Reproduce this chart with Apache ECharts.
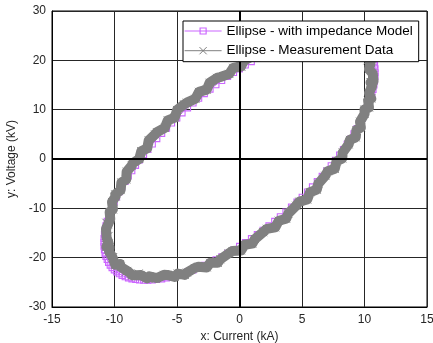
<!DOCTYPE html>
<html><head><meta charset="utf-8">
<script src="https://cdn.jsdelivr.net/npm/echarts@6/dist/echarts.min.js"></script>
<style>html,body{margin:0;padding:0;background:#fff}#c{width:433px;height:343px}</style>
</head><body><div id="c"></div>
<script>
const seriesNames = ['Ellipse - with impedance Model', 'Ellipse - Measurement Data'];
const axisTitles = ['x: Current (kA)', 'y: Voltage (kV)'];
const xRange = [-15, 15, 5];
const yRange = [-30, 30, 10];

const modelX = [
 0, 0.47, 0.95, 1.42, 1.88, 2.35, 2.81, 3.26, 3.71, 4.15, 4.59, 5.01, 5.43, 5.83, 6.22, 6.61, 6.97, 7.33, 7.67, 8.00, 8.31, 8.61, 8.89, 9.15, 9.40, 9.62, 9.83, 10.02, 10.20, 10.35, 10.48, 10.59, 10.69, 10.76, 10.81, 10.84,
 10.85, 10.84, 10.81, 10.76, 10.69, 10.59, 10.48, 10.35, 10.20, 10.02, 9.83, 9.62, 9.40, 9.15, 8.89, 8.61, 8.31, 8.00, 7.67, 7.33, 6.97, 6.61, 6.22, 5.83, 5.43, 5.01, 4.59, 4.15, 3.71, 3.26, 2.81, 2.35, 1.88, 1.42, 0.95, 0.47,
 0, -0.47, -0.95, -1.42, -1.88, -2.35, -2.81, -3.26, -3.71, -4.15, -4.59, -5.01, -5.43, -5.83, -6.22, -6.61, -6.97, -7.33, -7.67, -8.00, -8.31, -8.61, -8.89, -9.15, -9.40, -9.62, -9.83, -10.02, -10.20, -10.35, -10.48, -10.59, -10.69, -10.76, -10.81, -10.84,
 -10.85, -10.84, -10.81, -10.76, -10.69, -10.59, -10.48, -10.35, -10.20, -10.02, -9.83, -9.62, -9.40, -9.15, -8.89, -8.61, -8.31, -8.00, -7.67, -7.33, -6.97, -6.61, -6.22, -5.83, -5.43, -5.01, -4.59, -4.15, -3.71, -3.26, -2.81, -2.35, -1.88, -1.42, -0.95, -0.47,
 0
];
const modelY = [
 18.30, 19.03, 19.73, 20.39, 21.01, 21.60, 22.14, 22.64, 23.10, 23.51, 23.88, 24.21, 24.49, 24.72, 24.91, 25.05, 25.14, 25.19, 25.19, 25.14, 25.05, 24.90, 24.72, 24.48, 24.20, 23.87, 23.50, 23.08, 22.62, 22.12, 21.57, 20.99, 20.36, 19.70, 19.01, 18.27,
 17.50, 16.70, 15.87, 15.00, 14.11, 13.20, 12.26, 11.29, 10.31, 9.30, 8.28, 7.25, 6.20, 5.14, 4.07, 2.99, 1.91, 0.82, -0.27, -1.35, -2.43, -3.51, -4.58, -5.64, -6.69, -7.73, -8.74, -9.75, -10.73, -11.70, -12.64, -13.55, -14.44, -15.30, -16.13, -16.93,
 -17.70, -18.43, -19.13, -19.79, -20.41, -21.00, -21.54, -22.04, -22.50, -22.91, -23.28, -23.61, -23.89, -24.12, -24.31, -24.45, -24.54, -24.59, -24.59, -24.54, -24.45, -24.30, -24.12, -23.88, -23.60, -23.27, -22.90, -22.48, -22.02, -21.52, -20.97, -20.39, -19.76, -19.10, -18.41, -17.67,
 -16.90, -16.10, -15.27, -14.40, -13.51, -12.60, -11.66, -10.69, -9.71, -8.70, -7.68, -6.65, -5.60, -4.54, -3.47, -2.39, -1.31, -0.22, 0.87, 1.95, 3.03, 4.11, 5.18, 6.24, 7.29, 8.33, 9.34, 10.35, 11.33, 12.30, 13.24, 14.15, 15.04, 15.90, 16.73, 17.53,
 18.30
];
const measX = [
 0.12, 0.36, 0.97, 1.23, 1.94, 2.24, 2.86, 3.09, 3.68, 3.91, 4.58, 4.84, 5.42, 5.59, 6.13, 6.30, 6.91, 7.11, 7.62, 7.71, 8.17, 8.25, 8.78, 8.88, 9.30, 9.30, 9.66, 9.64, 10.06, 10.05, 10.36, 10.24, 10.49, 10.35, 10.66, 10.53,
 10.72, 10.48, 10.61, 10.35, 10.54, 10.29, 10.36, 10.00, 10.01, 9.64, 9.71, 9.35, 9.30, 8.83, 8.73, 8.25, 8.22, 7.76, 7.62, 7.06, 6.86, 6.30, 6.18, 5.64, 5.42, 4.79, 4.53, 3.91, 3.73, 3.14, 2.86, 2.19, 1.89, 1.23, 1.02, 0.41,
 0.12, -0.56, -0.87, -1.53, -1.74, -2.34, -2.62, -3.29, -3.58, -4.21, -4.38, -4.94, -5.18, -5.79, -6.03, -6.60, -6.71, -7.21, -7.38, -7.91, -8.07, -8.55, -8.58, -8.98, -9.06, -9.50, -9.56, -9.94, -9.86, -10.15, -10.12, -10.44, -10.39, -10.65, -10.46, -10.63,
 -10.48, -10.68, -10.51, -10.65, -10.34, -10.39, -10.12, -10.20, -9.91, -9.94, -9.51, -9.45, -9.06, -9.03, -8.63, -8.55, -8.02, -7.86, -7.38, -7.26, -6.76, -6.60, -5.98, -5.74, -5.18, -4.99, -4.43, -4.21, -3.53, -3.24, -2.62, -2.39, -1.79, -1.53, -0.82, -0.51,
 0.12
];
const measY = [
 18.75, 19.95, 20.75, 20.72, 21.14, 22.14, 22.18, 23.14, 23.69, 23.42, 23.59, 24.32, 24.10, 24.79, 25.08, 24.53, 24.43, 24.89, 24.39, 24.80, 24.81, 23.99, 23.61, 23.79, 23.02, 23.17, 22.91, 21.82, 21.18, 21.11, 20.09, 20.00, 19.50, 18.19, 17.32, 17.04,
 15.80, 15.51, 14.81, 13.32, 12.27, 11.83, 10.44, 10.01, 9.18, 7.57, 6.40, 5.86, 4.37, 3.87, 2.96, 1.30, 0.09, -0.48, -1.99, -2.49, -3.39, -5.03, -6.22, -6.74, -8.20, -8.64, -9.47, -11.02, -12.11, -12.51, -13.85, -14.15, -14.84, -16.23, -17.16, -17.38,
 -18.55, -18.65, -19.15, -20.32, -21.04, -21.04, -21.98, -21.84, -22.09, -23.02, -23.49, -23.22, -23.90, -23.49, -23.48, -24.13, -24.33, -23.79, -24.19, -23.50, -23.21, -23.59, -23.51, -22.69, -22.82, -21.87, -21.31, -21.42, -21.08, -20.01, -19.89, -18.70, -17.90, -17.79, -17.22, -15.94,
 -15.60, -14.21, -13.21, -12.92, -12.17, -10.73, -10.24, -8.71, -7.58, -7.17, -6.30, -4.76, -4.17, -2.57, -1.36, -0.90, 0.01, 1.58, 2.19, 3.79, 4.99, 5.43, 6.32, 7.84, 8.40, 9.94, 11.07, 11.42, 12.21, 13.61, 14.05, 15.45, 16.44, 16.63, 17.26, 18.48,
 18.75
];

const zip = (xs, ys) => xs.map((x, i) => [x, ys[i]]);
const PURPLE = '#cc66ff';
const GRAY = '#808080';
const FONT = '"Liberation Sans", Arial, sans-serif';
const squarePath = 'path://M0,0H10V10H0Z M1.6,1.6V8.4H8.4V1.6Z';
const crossPath = 'path://M0,0L10,10M10,0L0,10';

const chart = echarts.init(document.getElementById('c'), null, {renderer: 'canvas'});
chart.setOption({
  animation: false,
  backgroundColor: '#fff',
  grid: {left: 52, right: 6, top: 11, bottom: 36, outerBoundsMode: 'none', containLabel: false,
    show: true, borderColor: '#000', borderWidth: 1, backgroundColor: 'transparent'},
  xAxis: {
    type: 'value', min: xRange[0], max: xRange[1], interval: xRange[2],
    name: axisTitles[0], nameLocation: 'middle', nameGap: 21,
    nameTextStyle: {fontSize: 12, color: '#262626', fontFamily: FONT},
    axisLine: {show: true, onZero: false, lineStyle: {color: '#000', width: 1}},
    axisTick: {show: false},
    axisLabel: {fontSize: 12, color: '#262626', fontFamily: FONT, margin: 7},
    splitLine: {show: true, lineStyle: {color: '#262626', width: 1}}
  },
  yAxis: {
    type: 'value', min: yRange[0], max: yRange[1], interval: yRange[2],
    name: axisTitles[1], nameLocation: 'middle', nameGap: 27,
    nameTextStyle: {fontSize: 12, color: '#262626', fontFamily: FONT},
    axisLine: {show: true, onZero: false, lineStyle: {color: '#000', width: 1}},
    axisTick: {show: false},
    axisLabel: {fontSize: 12, color: '#262626', fontFamily: FONT, margin: 6},
    splitLine: {show: true, lineStyle: {color: '#262626', width: 1}}
  },
  legend: {
    data: [
      {name: seriesNames[0], lineStyle: {width: 1.2}, itemStyle: {borderWidth: 0}},
      {name: seriesNames[1], lineStyle: {width: 1}, itemStyle: {borderWidth: 1}}
    ],
    z: 20,
    orient: 'vertical', left: 183, top: 21,
    padding: [3, 6, 4, 1], itemGap: 5.7,
    itemWidth: 37, itemHeight: 9,
    backgroundColor: '#fff', borderColor: '#000', borderWidth: 1, borderRadius: 0,
    textStyle: {fontSize: 13.5, color: '#000', fontFamily: FONT},
    selectedMode: false
  },
  series: [
    {
      name: 'zero', type: 'line', z: 1, data: [[0, 0]], showSymbol: false, silent: true,
      lineStyle: {opacity: 0},
      markLine: {silent: true, symbol: ['none', 'none'], label: {show: false},
        lineStyle: {color: '#000', width: 2, type: 'solid'},
        data: [{xAxis: 0}, {yAxis: 0}]}
    },
    {
      name: seriesNames[0], type: 'line', z: 2,
      data: zip(modelX, modelY),
      symbol: squarePath, symbolSize: 7, showAllSymbol: true,
      lineStyle: {color: PURPLE, width: 1},
      itemStyle: {color: PURPLE}
    },
    {
      name: 'band', type: 'line', z: 3, silent: true,
      data: zip(measX, measY), showSymbol: false,
      lineStyle: {color: GRAY, width: 10, join: 'round', cap: 'round'}
    },
    {
      name: seriesNames[1], type: 'line', z: 4,
      data: zip(measX, measY),
      symbol: crossPath, symbolSize: 8, showAllSymbol: true,
      lineStyle: {color: GRAY, width: 1},
      itemStyle: {color: GRAY, borderColor: GRAY, borderWidth: 1}
    }
  ]
});
</script>
</body></html>
